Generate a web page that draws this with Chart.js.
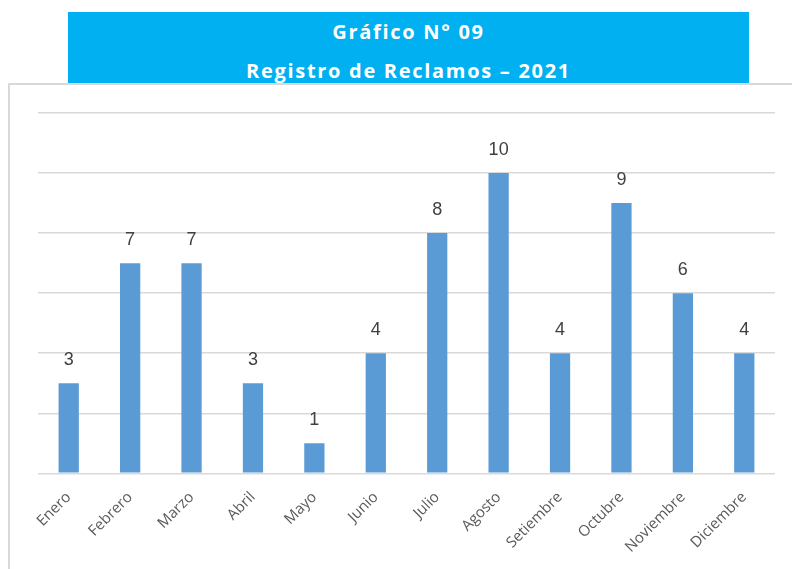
<!DOCTYPE html>
<html>
<head>
<meta charset="utf-8">
<script src="https://cdn.jsdelivr.net/npm/chart.js@4"></script>
<style>
html,body{margin:0;padding:0;background:#fff;}
#wrap{position:relative;width:792px;height:569px;overflow:hidden;}
#frame{position:absolute;left:8px;top:83px;width:800px;height:500px;border:2px solid #D9D9D9;box-sizing:border-box;}
#title{position:absolute;left:68px;top:12px;width:681px;height:71px;background:#00B0F0;color:#fff;
 font-family:"Open Sans","Liberation Sans",Arial,sans-serif;font-weight:bold;font-size:20px;letter-spacing:1.7px;text-align:center;line-height:39px;padding-top:0px;box-sizing:border-box;}
#c{position:absolute;left:0;top:0;}
</style>
</head>
<body>
<div id="wrap">
<div id="frame"></div>
<div id="title">Gráfico N° 09<br>Registro de Reclamos – 2021</div>
<canvas id="c" width="792" height="569"></canvas>
</div>
<script>
const categories = ["Enero","Febrero","Marzo","Abril","Mayo","Junio","Julio","Agosto","Setiembre","Octubre","Noviembre","Diciembre"];
const reclamos = [3,7,7,3,1,4,8,10,4,9,6,4];
const yTicks = [0,2,4,6,8,10,12];

const valueLabels = {
  id:'valueLabels',
  afterDatasetsDraw(chart){
    const ctx = chart.ctx;
    const meta = chart.getDatasetMeta(0);
    ctx.save();
    ctx.font = '18px "Liberation Sans", Arial, sans-serif';
    ctx.fillStyle = '#404040';
    ctx.textAlign = 'center';
    ctx.textBaseline = 'bottom';
    meta.data.forEach((bar,i)=>{
      ctx.fillText(String(reclamos[i]), bar.x, bar.y - 14);
    });
    ctx.restore();
  }
};

new Chart(document.getElementById('c'), {
  type:'bar',
  data:{
    labels:categories,
    datasets:[{data:reclamos, backgroundColor:'#5B9BD5', categoryPercentage:1, barPercentage:0.33}]
  },
  options:{
    responsive:false,
    animation:false,
    layout:{padding:{left:38,right:17,top:113,bottom:6}},
    plugins:{legend:{display:false},tooltip:{enabled:false},title:{display:false}},
    scales:{
      x:{
        grid:{display:false},
        border:{display:false},
        ticks:{color:'#595959',font:{family:'"Open Sans", "Liberation Sans", Arial, sans-serif',size:15},minRotation:45,maxRotation:45,padding:7}
      },
      y:{
        min:0,max:12,
        afterBuildTicks(axis){axis.ticks = yTicks.map(v=>({value:v}));},
        ticks:{display:false},
        border:{display:false},
        grid:{color:'#D9D9D9',lineWidth:1.5,drawTicks:false}
      }
    }
  },
  plugins:[valueLabels]
});
</script>
</body>
</html>
